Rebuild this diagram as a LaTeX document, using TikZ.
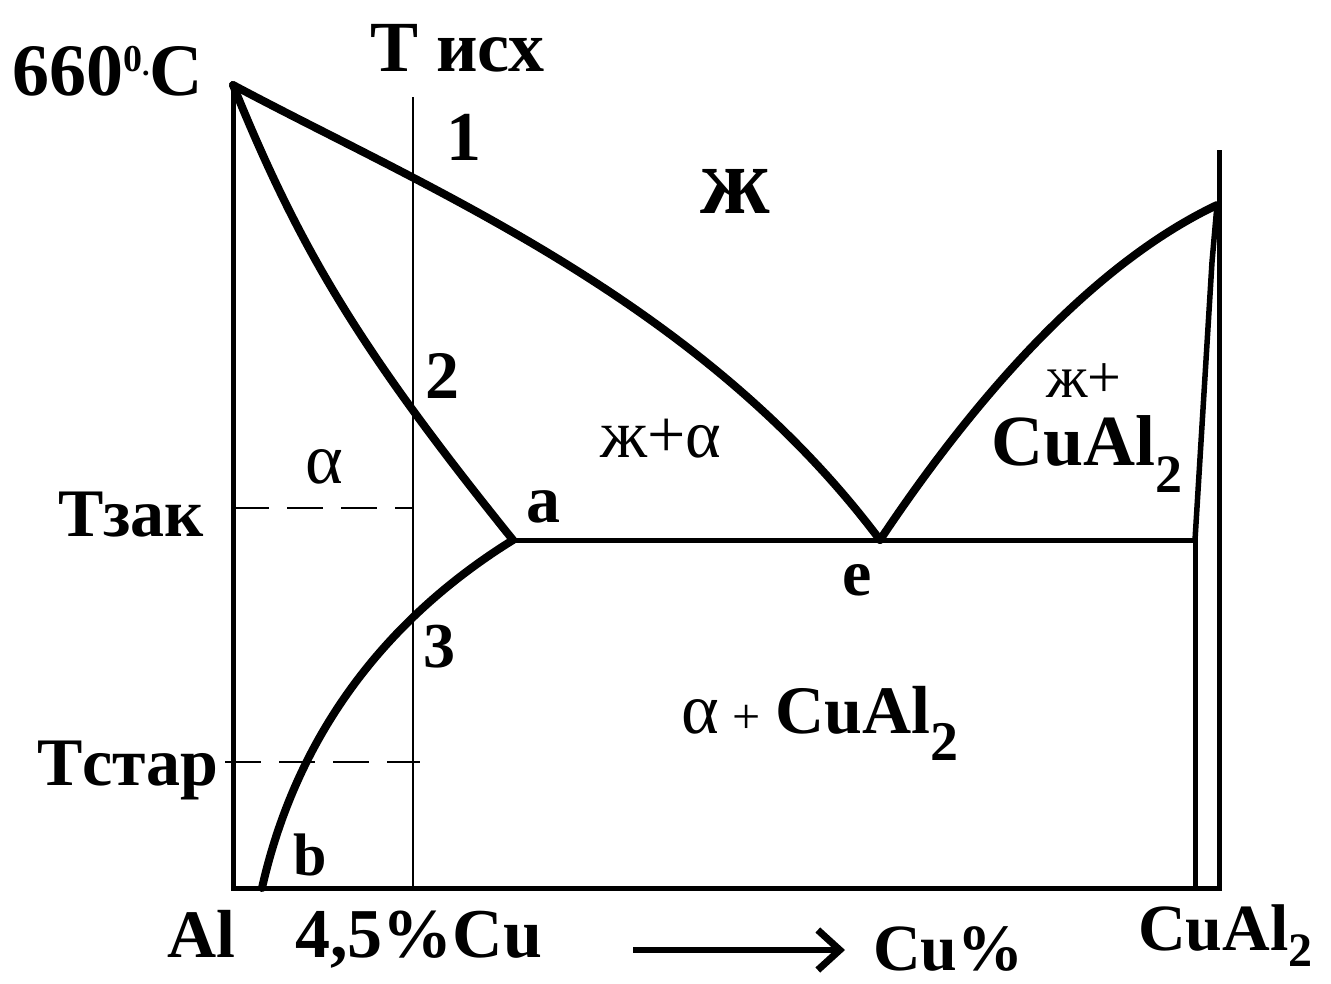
\documentclass[tikz,border=0pt]{standalone}
\usepackage{fontspec}
\setmainfont{Liberation Serif}
\usetikzlibrary{arrows.meta}
\newcommand\fsz[1]{\fontsize{#1}{#1}\selectfont}
\begin{document}
\begin{tikzpicture}[x=1pt,y=-1pt,
  lbl/.style={inner sep=0pt, anchor=base west},
  curveline/.style={line width=8pt, line cap=round, line join=round},
  axisline/.style={line width=5pt, line join=miter},
  thinline/.style={line width=2.8pt},
  dashline/.style={line width=2.4pt, dash pattern=on 36pt off 18pt},
]
\useasboundingbox (0,0) rectangle (1331,983);
% key points
\coordinate (T660) at (233,85);
\coordinate (O) at (233,888);
\coordinate (Rb) at (1219,888);
\coordinate (Rt) at (1219,150);
\coordinate (Ib) at (1195,888);
\coordinate (Ie) at (1195,540);
\coordinate (Itop) at (1217,205);
\coordinate (pa) at (513,540);
\coordinate (pe) at (880,540);
\coordinate (pb) at (262,888);
\coordinate (Vt) at (413,97);
\coordinate (Vb) at (413,888);
\coordinate (Dz1) at (233,508);
\coordinate (Dz2) at (413,508);
\coordinate (Ds1) at (225,762);
\coordinate (Ds2) at (420,762);
\coordinate (arrS) at (633,950);
\coordinate (arrE) at (845,950);

% axes and frame lines
\draw[axisline] (T660) -- (O) -- (Rb) -- (Rt);
\draw[axisline] (Ib) -- (Ie);
\draw[line width=5.5pt, line join=round] (Ie) -- (1212,262) -- (Itop);
\draw[line width=5pt] (pa) -- (Ie);
\draw[thinline] (Vt) -- (Vb);
\draw[dashline] (Dz1) -- (Dz2);
\draw[dashline] (Ds1) -- (Ds2);

% liquidus
\draw[curveline] (T660) .. controls (430,190) and (700,300) .. (pe);
\draw[curveline] (pe) .. controls (960,420) and (1080,270) .. (Itop);
% solidus
\draw[curveline] (T660) .. controls (300,250) and (360,350) .. (pa);
% solvus
\draw[curveline] (pa) .. controls (400,610) and (300,720) .. (pb);

% arrow
\draw[line width=6pt, -{Straight Barb[length=22pt,width=40pt,line width=7pt]}] (arrS) -- (arrE);

% labels
\node[lbl, font=\bfseries\fsz{74}] (l660) at (12,95) {660\raisebox{24pt}{\fsz{38}0}\raisebox{20pt}{\fsz{30}.}C};
\node[lbl, font=\bfseries\fsz{72}] (ltisx) at (370,71) {T исх};
\node[lbl, font=\bfseries\fsz{70}] (l1) at (446,160) {1};
\node[lbl, font=\bfseries\fsz{96}] (lzh) at (700,213) {ж};
\node[lbl, font=\bfseries\fsz{68}] (l2) at (425,398) {2};
\node[lbl, font=\fsz{72}] (lalpha) at (305,483) {α};
\node[lbl, font=\fsz{68}] (lzha) at (600,457) {ж+α};
\node[lbl, font=\fsz{60}] (lzhp) at (1046,397) {ж+};
\node[lbl, font=\bfseries\fsz{72}] (lcual) at (991,465) {CuAl\raisebox{-27pt}{\fsz{54}2}};
\node[lbl, font=\bfseries\fsz{68}] (ltzak) at (58,536) {Tзак};
\node[lbl, font=\bfseries\fsz{68}] (la) at (526,522) {a};
\node[lbl, font=\bfseries\fsz{66}] (le) at (842,595) {e};
\node[lbl, font=\bfseries\fsz{64}] (l3) at (423,667) {3};
\node[lbl, font=\bfseries\fsz{68}] (lacu) at (681,733) {{\mdseries\fsz{72}α\hspace{14pt}\fsz{50}+\hspace{14pt}}CuAl\raisebox{-27pt}{\fsz{56}2}};
\node[lbl, font=\bfseries\fsz{68}] (ltstar) at (37,785) {Tстар};
\node[lbl, font=\bfseries\fsz{60}] (lb) at (293,875) {b};
\node[lbl, font=\bfseries\fsz{68}] (lal) at (167,957) {Al};
\node[lbl, font=\bfseries\fsz{70}] (l45) at (295,957) {4,5\%Cu};
\node[lbl, font=\bfseries\fsz{66}] (lcup) at (873,970) {Cu\%};
\node[lbl, font=\bfseries\fsz{66}] (lcual2) at (1138,950) {CuAl\raisebox{-16pt}{\fsz{48}2}};
\end{tikzpicture}
\end{document}
